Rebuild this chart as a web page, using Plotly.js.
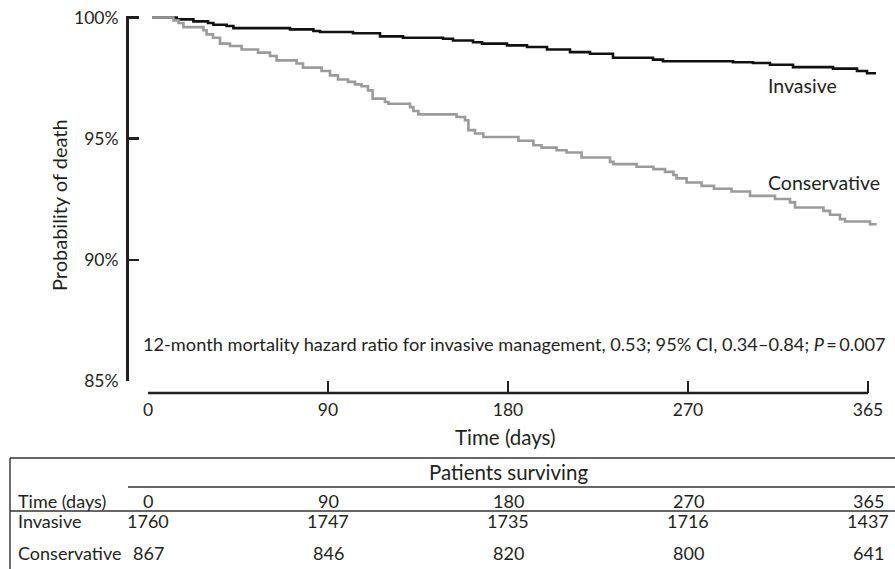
<!DOCTYPE html>
<html>
<head>
<meta charset="utf-8">
<script src="https://cdn.plot.ly/plotly-3.0.1.min.js"></script>
<style>
  html, body { margin: 0; padding: 0; background: #fff; }
  #chart { width: 895px; height: 569px; }
</style>
</head>
<body>
<div id="chart"></div>
<script>
// Kaplan–Meier estimates: event day and cumulative survival (%)
const invasiveDays = [2, 14.3, 22.7, 30, 32.7, 39.3, 42.7, 71, 82.7, 86, 102.5, 116, 127.5, 147.5, 152.5,
  162.5, 167, 179.5, 189.5, 199.5, 211, 221, 232.5, 252.5, 257.5, 292.5, 302.5, 311, 322.5, 342.5,
  354.5, 359.5, 364];
const invasiveSurv = [100, 99.92, 99.84, 99.77, 99.70, 99.65, 99.56, 99.51, 99.44, 99.40, 99.35, 99.22,
  99.16, 99.12, 99.05, 98.98, 98.92, 98.85, 98.78, 98.68, 98.57, 98.50, 98.34, 98.26, 98.19, 98.15,
  98.12, 98.05, 97.95, 97.89, 97.79, 97.70, 97.70];

const conservativeDays = [2, 12.7, 15.2, 17.7, 27.7, 29.3, 32.5, 36, 41, 46.8, 55, 61, 64.3, 74.3, 77.5,
  86.8, 91, 95, 100, 103.5, 106.8, 110, 112.3, 118.5, 120.2, 131, 132.7, 135.2, 154.3, 158.5, 160.2,
  163.5, 167.7, 185.2, 192.7, 196.8, 204.3, 209.3, 216.8, 231, 232.7, 244.3, 252.7, 258.5, 262.7,
  264.3, 269.3, 276.8, 283, 291.8, 301, 313.5, 321, 323.5, 337.7, 341, 346, 348.5, 361, 364.3];
const conservativeSurv = [100, 99.88, 99.77, 99.60, 99.47, 99.30, 99.16, 98.92, 98.82, 98.68, 98.55,
  98.41, 98.23, 98.10, 97.93, 97.79, 97.61, 97.44, 97.34, 97.24, 97.16, 96.99, 96.65, 96.51, 96.44,
  96.30, 96.14, 96.00, 95.89, 95.76, 95.35, 95.21, 95.07, 94.91, 94.73, 94.63, 94.52, 94.43, 94.22,
  94.04, 93.95, 93.84, 93.74, 93.63, 93.50, 93.36, 93.19, 93.05, 92.93, 92.82, 92.64, 92.51, 92.37,
  92.16, 92.02, 91.86, 91.68, 91.58, 91.47, 91.47];

// Axis ticks
const xTickVals = [0, 90, 180, 270, 360];
const xTickText = ['0', '90', '180', '270', '365'];
const yTickVals = [85, 90, 95, 100];
const yTickText = ['85%', '90%', '95%', '100%'];

// Number-at-risk table
const riskTimeLabels = ['0', '90', '180', '270', '365'];
const invasiveAtRisk = [1760, 1747, 1735, 1716, 1437];
const conservativeAtRisk = [867, 846, 820, 800, 641];

const seriesNames = ['Invasive', 'Conservative'];
const hazardNote = '12-month mortality hazard ratio for invasive management, 0.53; 95% CI, 0.34\u20130.84; <i>P</i>\u2009=\u20090.007';

// Page geometry helpers (pixels -> paper fractions)
const W = 895, H = 569;
const M = { l: 127, r: 17, t: 16, b: 176 };
const px = x => (x - M.l) / (W - M.l - M.r);
const py = y => (H - M.b - y) / (H - M.t - M.b);

const FONT = 'Lato, "Open Sans", sans-serif';
const INK = '#231f20';
const f = (size) => ({ family: FONT, size: size, color: INK });

const traces = [
  {
    x: invasiveDays, y: invasiveSurv, name: seriesNames[0],
    type: 'scatter', mode: 'lines', line: { shape: 'hv', color: '#111111', width: 2.6 },
    hoverinfo: 'skip'
  },
  {
    x: conservativeDays, y: conservativeSurv, name: seriesNames[1],
    type: 'scatter', mode: 'lines', line: { shape: 'hv', color: '#9b9b9b', width: 2.6 },
    hoverinfo: 'skip'
  }
];

const annotations = [];
const txt = (o) => Object.assign({ showarrow: false, font: f(18) }, o);

// Axis titles
annotations.push(txt({ xref: 'paper', yref: 'paper', x: px(59), y: py(205), text: 'Probability of death',
  textangle: -90, xanchor: 'center', yanchor: 'middle', font: f(20) }));
annotations.push(txt({ xref: 'paper', yref: 'paper', x: px(505), y: py(437), text: 'Time (days)',
  xanchor: 'center', yanchor: 'middle', font: f(20.5) }));

// Curve labels
annotations.push(txt({ xref: 'paper', yref: 'paper', x: px(766), y: py(85), text: seriesNames[0],
  xanchor: 'left', yanchor: 'middle', font: f(19.5) }));
annotations.push(txt({ xref: 'paper', yref: 'paper', x: px(766), y: py(182), text: seriesNames[1],
  xanchor: 'left', yanchor: 'middle', font: f(19.5) }));

// Hazard ratio note
annotations.push(txt({ xref: 'paper', yref: 'paper', x: px(141), y: py(344), text: hazardNote,
  xanchor: 'left', yanchor: 'middle', font: f(18.2) }));

// Table header and rows
annotations.push(txt({ xref: 'x', yref: 'paper', x: xTickVals[2], y: py(472), text: 'Patients surviving',
  xanchor: 'center', yanchor: 'middle', font: f(20.5) }));
const rowY = [py(501), py(521), py(553)];
const rowLabels = ['Time (days)', seriesNames[0], seriesNames[1]];
rowLabels.forEach((lab, i) => {
  annotations.push(txt({ xref: 'paper', yref: 'paper', x: px(16), y: rowY[i], text: lab,
    xanchor: 'left', yanchor: 'middle' }));
});
const rows = [riskTimeLabels, invasiveAtRisk, conservativeAtRisk];
rows.forEach((vals, r) => {
  vals.forEach((v, c) => {
    annotations.push(txt({ xref: 'x', yref: 'paper', x: xTickVals[c], y: rowY[r], text: String(v),
      xanchor: 'center', yanchor: 'middle' }));
  });
});

const tableLine = { color: '#333333', width: 1.4 };
const shapes = [
  // x-axis line between the first and last ticks
  { type: 'line', xref: 'x', yref: 'paper', x0: xTickVals[0], x1: xTickVals[xTickVals.length - 1],
    y0: 0, y1: 0, line: { color: INK, width: 2.6 } },
  // table frame
  { type: 'line', xref: 'paper', yref: 'paper', x0: px(10), x1: px(900), y0: py(458), y1: py(458), line: tableLine },
  { type: 'line', xref: 'paper', yref: 'paper', x0: px(10), x1: px(10), y0: py(458), y1: py(575), line: tableLine },
  { type: 'line', xref: 'paper', yref: 'paper', x0: px(128), x1: px(900), y0: py(487), y1: py(487), line: tableLine },
  { type: 'line', xref: 'paper', yref: 'paper', x0: px(10), x1: px(900), y0: py(511), y1: py(511), line: tableLine }
];

const layout = {
  width: W, height: H,
  margin: M,
  paper_bgcolor: '#ffffff', plot_bgcolor: '#ffffff',
  showlegend: false,
  font: f(17),
  xaxis: {
    domain: [px(148), 1], range: [0, 365], anchor: 'free', position: 0,
    showline: false, showgrid: false, zeroline: false,
    tickmode: 'array', tickvals: xTickVals, ticktext: xTickText,
    ticks: 'inside', ticklen: 12, tickwidth: 2.6, tickcolor: INK,
    ticklabelstandoff: 4,
    tickfont: f(17.5)
  },
  yaxis: {
    domain: [py(381), 1], range: [85, 100.06], anchor: 'free', position: 0,
    showline: true, linecolor: INK, linewidth: 2.6, showgrid: false, zeroline: false,
    tickmode: 'array', tickvals: yTickVals, ticktext: yTickText,
    ticks: 'inside', ticklen: 10, tickwidth: 2.6, tickcolor: INK,
    ticklabelstandoff: 4,
    tickfont: f(17.5)
  },
  annotations: annotations,
  shapes: shapes
};

Plotly.newPlot('chart', traces, layout, { staticPlot: true, displayModeBar: false });
</script>
</body>
</html>
